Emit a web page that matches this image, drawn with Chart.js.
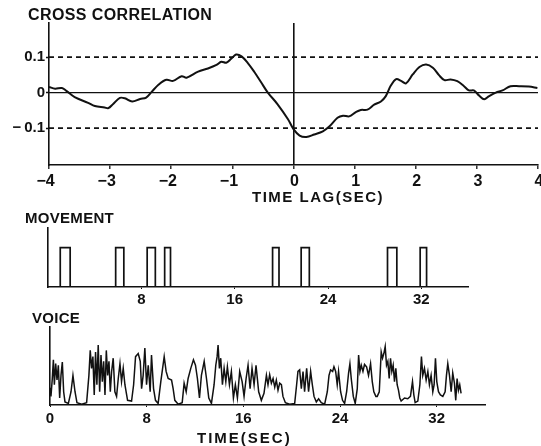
<!DOCTYPE html>
<html>
<head>
<meta charset="utf-8">
<script src="https://cdn.jsdelivr.net/npm/chart.js@4/dist/chart.umd.min.js"></script>
<style>
  html, body { margin: 0; padding: 0; background: #fff; }
  #wrap { position: relative; width: 541px; height: 446px; overflow: hidden; background: #fff; }
  #wrap canvas { position: absolute; left: 0; top: 0; }
</style>
</head>
<body>
<div id="wrap">
  <canvas id="corr" width="541" height="446"></canvas>
  <canvas id="move" width="541" height="446"></canvas>
  <canvas id="voice" width="541" height="446"></canvas>
</div>
<script>
// ---- data ----------------------------------------------------------------
// cross correlation between movement and voice, [lag (s), r]
const lagCorrelation = [
  [-4.00, 0.016], [-3.90, 0.011], [-3.79, 0.013], [-3.71, 0.004], [-3.58, -0.013],
  [-3.36, -0.029], [-3.25, -0.038], [-3.09, -0.042], [-3.03, -0.044], [-2.95, -0.032],
  [-2.84, -0.015], [-2.76, -0.016], [-2.64, -0.025], [-2.51, -0.018], [-2.41, -0.014],
  [-2.32, 0.002], [-2.21, 0.022], [-2.08, 0.036], [-1.97, 0.033], [-1.83, 0.046],
  [-1.75, 0.042], [-1.56, 0.059], [-1.40, 0.068], [-1.26, 0.078], [-1.18, 0.087],
  [-1.10, 0.084], [-1.02, 0.095], [-0.94, 0.107], [-0.85, 0.102], [-0.75, 0.084],
  [-0.64, 0.058], [-0.53, 0.029], [-0.42, 0.000], [-0.26, -0.033], [-0.09, -0.075],
  [0.00, -0.103], [0.10, -0.121], [0.21, -0.125], [0.34, -0.118], [0.48, -0.109],
  [0.59, -0.095], [0.72, -0.071], [0.81, -0.065], [0.91, -0.067], [1.02, -0.055],
  [1.10, -0.049], [1.21, -0.048], [1.32, -0.034], [1.43, -0.025], [1.51, -0.010],
  [1.59, 0.019], [1.68, 0.038], [1.76, 0.033], [1.84, 0.026], [1.95, 0.051],
  [2.06, 0.072], [2.17, 0.079], [2.28, 0.070], [2.38, 0.049], [2.47, 0.035],
  [2.57, 0.037], [2.68, 0.032], [2.79, 0.018], [2.87, 0.006], [2.95, 0.006],
  [3.04, -0.009], [3.12, -0.019], [3.20, -0.010], [3.31, 0.000], [3.42, 0.006],
  [3.55, 0.018], [3.69, 0.018], [3.85, 0.017], [3.99, 0.013]
];
const lagTicks = [-4, -3, -2, -1, 0, 1, 2, 3, 4];
const corrTicks = [-0.1, 0, 0.1];
const corrGuides = [0.1, -0.1];

// movement on/off times (s)
const movementOnsets  = [1.05, 5.8, 8.5, 10.0, 19.25, 21.7, 29.1, 31.9];
const movementOffsets = [1.9, 6.5, 9.2, 10.5, 19.8, 22.4, 29.9, 32.45];
const movementTicks = [8, 16, 24, 32];

// voice envelope, [time (s), level]
const voiceSamples = [
  [0.00, 0.22], [0.08, 0.11], [0.19, 0.34], [0.28, 0.58], [0.36, 0.26], [0.47, 0.53],
  [0.58, 0.32], [0.69, 0.51], [0.80, 0.09], [0.91, 0.38], [1.02, 0.55], [1.13, 0.17],
  [1.24, 0.04], [1.52, 0.02], [1.74, 0.17], [1.90, 0.38], [2.07, 0.17], [2.23, 0.03],
  [2.62, 0.01], [3.03, 0.03], [3.22, 0.38], [3.33, 0.70], [3.44, 0.47], [3.55, 0.62],
  [3.66, 0.13], [3.77, 0.68], [3.88, 0.26], [3.99, 0.77], [4.11, 0.17], [4.22, 0.64],
  [4.33, 0.30], [4.44, 0.56], [4.55, 0.13], [4.66, 0.70], [4.77, 0.38], [4.88, 0.56],
  [4.99, 0.17], [5.10, 0.43], [5.23, 0.60], [5.37, 0.17], [5.51, 0.11], [5.65, 0.34],
  [5.79, 0.53], [5.92, 0.30], [6.06, 0.47], [6.20, 0.26], [6.42, 0.06], [6.75, 0.05],
  [6.92, 0.26], [7.08, 0.62], [7.30, 0.66], [7.47, 0.56], [7.58, 0.21], [7.71, 0.38],
  [7.85, 0.73], [7.99, 0.26], [8.13, 0.51], [8.29, 0.17], [8.40, 0.64], [8.57, 0.21],
  [8.73, 0.06], [8.95, 0.02], [9.17, 0.30], [9.45, 0.62], [9.61, 0.43], [9.78, 0.34],
  [10.06, 0.32], [10.19, 0.21], [10.33, 0.06], [10.61, 0.01], [10.94, 0.03], [11.10, 0.28],
  [11.27, 0.17], [11.43, 0.34], [11.65, 0.47], [11.87, 0.58], [12.04, 0.51], [12.20, 0.34],
  [12.37, 0.09], [12.53, 0.38], [12.76, 0.56], [12.95, 0.34], [13.14, 0.09], [13.36, 0.02],
  [13.58, 0.26], [13.72, 0.51], [13.83, 0.62], [13.91, 0.77], [14.02, 0.47], [14.13, 0.60],
  [14.27, 0.26], [14.41, 0.47], [14.55, 0.30], [14.68, 0.49], [14.85, 0.26], [15.01, 0.43],
  [15.18, 0.09], [15.34, 0.26], [15.51, 0.09], [15.70, 0.43], [15.90, 0.30], [16.06, 0.11],
  [16.23, 0.34], [16.39, 0.51], [16.56, 0.21], [16.72, 0.47], [16.89, 0.26], [17.05, 0.51],
  [17.27, 0.17], [17.49, 0.06], [17.71, 0.15], [17.91, 0.38], [18.04, 0.26], [18.18, 0.39],
  [18.32, 0.28], [18.46, 0.34], [18.60, 0.23], [18.73, 0.32], [18.87, 0.19], [19.01, 0.28],
  [19.15, 0.26], [19.28, 0.11], [19.48, 0.03], [19.83, 0.01], [20.25, 0.02], [20.41, 0.26],
  [20.52, 0.43], [20.66, 0.45], [20.80, 0.21], [20.94, 0.43], [21.07, 0.17], [21.24, 0.47],
  [21.40, 0.17], [21.57, 0.43], [21.71, 0.26], [21.85, 0.11], [22.04, 0.04], [22.23, 0.08],
  [22.45, 0.03], [22.73, 0.01], [22.95, 0.17], [23.09, 0.38], [23.22, 0.45], [23.39, 0.43],
  [23.50, 0.49], [23.64, 0.43], [23.77, 0.26], [23.88, 0.43], [24.05, 0.17], [24.21, 0.06],
  [24.38, 0.02], [24.55, 0.17], [24.71, 0.41], [24.82, 0.53], [24.93, 0.34], [25.10, 0.11],
  [25.26, 0.02], [25.43, 0.21], [25.54, 0.64], [25.65, 0.43], [25.76, 0.51], [25.90, 0.43],
  [26.03, 0.52], [26.20, 0.49], [26.36, 0.38], [26.53, 0.53], [26.67, 0.30], [26.80, 0.17],
  [26.97, 0.11], [27.08, 0.11], [27.25, 0.17], [27.41, 0.68], [27.52, 0.60], [27.63, 0.66],
  [27.74, 0.75], [27.85, 0.51], [27.96, 0.56], [28.07, 0.34], [28.18, 0.60], [28.29, 0.43],
  [28.40, 0.51], [28.51, 0.30], [28.62, 0.47], [28.73, 0.26], [28.84, 0.19], [28.95, 0.09],
  [29.06, 0.05], [29.34, 0.09], [29.61, 0.08], [29.83, 0.11], [30.00, 0.30], [30.11, 0.13],
  [30.22, 0.03], [30.44, 0.05], [30.61, 0.26], [30.74, 0.62], [30.85, 0.38], [30.99, 0.47],
  [31.13, 0.32], [31.27, 0.43], [31.40, 0.26], [31.54, 0.38], [31.68, 0.17], [31.79, 0.26],
  [31.90, 0.60], [32.01, 0.30], [32.15, 0.17], [32.31, 0.13], [32.51, 0.11], [32.70, 0.17],
  [32.81, 0.38], [32.92, 0.53], [33.06, 0.38], [33.20, 0.17], [33.33, 0.41], [33.47, 0.28],
  [33.58, 0.06], [33.69, 0.34], [33.80, 0.19], [33.91, 0.26], [34.02, 0.15]
];
const timeTicks = [0, 8, 16, 24, 32];

// ---- shared look -----------------------------------------------------------
const INK = '#111';
const FAMILY = '"Liberation Sans", Arial, Helvetica, sans-serif';
Chart.defaults.font.family = FAMILY;
Chart.defaults.color = INK;

const PAGE_W = 541, PAGE_H = 446;
// padding so the plot box lands at [left,right] x [top,bottom] on the page
function frame(left, top, right, bottom, yW, xH) {
  return { left: left - yW, top: top, right: PAGE_W - right, bottom: PAGE_H - bottom - xH };
}
const fixY = w => s => { s.width = w; s.paddingTop = 0; s.paddingBottom = 0; };
const fixX = h => s => { s.height = h; s.paddingLeft = 0; s.paddingRight = 0; };
const setTicks = list => s => { s.ticks = list.map(v => ({ value: v })); };

// text captions (panel names, axis names)
const captions = {
  id: 'captions',
  afterDraw(chart, args, opts) {
    const ctx = chart.ctx;
    (opts.items || []).forEach(it => {
      ctx.save();
      ctx.font = it.font;
      ctx.fillStyle = INK;
      ctx.textAlign = 'left';
      ctx.textBaseline = 'alphabetic';
      if ('letterSpacing' in ctx) ctx.letterSpacing = (it.spacing || 0) + 'px';
      ctx.fillText(it.text, it.x, it.y);
      ctx.restore();
    });
  }
};
Chart.register(captions);

const pts = arr => arr.map(([x, y]) => ({ x, y }));
const baseOpts = { responsive: false, animation: false, events: [],
  plugins: { legend: { display: false }, tooltip: { enabled: false } } };

// ---- cross correlation panel ----------------------------------------------
new Chart(document.getElementById('corr'), {
  type: 'line',
  data: {
    datasets: [
      { data: [{ x: -4, y: 0 }, { x: 4, y: 0 }], borderColor: INK, borderWidth: 1.4, pointRadius: 0 },
      ...corrGuides.map(v => ({ data: [{ x: -4, y: v }, { x: 4, y: v }], borderColor: INK,
        borderWidth: 1.6, borderDash: [5, 4], pointRadius: 0 })),
      { data: pts(lagCorrelation), borderColor: INK, borderWidth: 2, pointRadius: 0,
        tension: 0.35, cubicInterpolationMode: 'default' }
    ]
  },
  options: {
    ...baseOpts,
    layout: { padding: frame(49, 23, 538, 165, 40, 30) },
    scales: {
      x: {
        type: 'linear', min: -4, max: 4,
        afterFit: fixX(30), afterBuildTicks: setTicks(lagTicks),
        border: { display: true, color: INK, width: 1.6 },
        grid: { drawOnChartArea: true, drawTicks: true, tickLength: 4, tickColor: INK, tickWidth: 1.3,
          lineWidth: 1.6, color: c => (c.tick && c.tick.value === 0) ? INK : 'rgba(0,0,0,0)' },
        ticks: { padding: 3, labelOffset: 1, maxRotation: 0, autoSkip: false,
          font: { size: 16, weight: 'bold' }, color: INK,
          callback: v => v < 0 ? '\u2212' + Math.abs(v) + '\u2007' : String(v) }
      },
      y: {
        type: 'linear', min: -0.204, max: 0.196,
        afterFit: fixY(40), afterBuildTicks: setTicks(corrTicks),
        border: { display: true, color: INK, width: 1.6 },
        grid: { drawOnChartArea: false, drawTicks: true, tickLength: 3, tickColor: INK, tickWidth: 1.3 },
        ticks: { padding: 1, font: { size: 15, weight: 'bold' }, color: INK,
          callback: v => v === 0 ? '0' : (v < 0 ? '\u2212\u2009' : '') + Math.abs(v).toFixed(1) }
      }
    },
    plugins: {
      ...baseOpts.plugins,
      captions: { items: [
        { text: 'CROSS CORRELATION', x: 28, y: 20, font: 'bold 16px ' + FAMILY, spacing: 0.4 },
        { text: 'TIME LAG(SEC)', x: 252, y: 202, font: 'bold 15px ' + FAMILY, spacing: 1.5 }
      ] }
    }
  }
});

// ---- movement panel --------------------------------------------------------
const movementTrace = [{ x: 0, y: 0 }];
movementOnsets.forEach((on, i) => {
  const off = movementOffsets[i];
  movementTrace.push({ x: on, y: 0 }, { x: on, y: 1 }, { x: off, y: 1 }, { x: off, y: 0 });
});
movementTrace.push({ x: 36, y: 0 });

new Chart(document.getElementById('move'), {
  type: 'line',
  data: { datasets: [{ data: movementTrace, borderColor: INK, borderWidth: 1.7, pointRadius: 0, tension: 0 }] },
  options: {
    ...baseOpts,
    layout: { padding: frame(48, 228, 468, 287, 40, 30) },
    scales: {
      x: {
        type: 'linear', min: 0, max: 36,
        afterFit: fixX(30), afterBuildTicks: setTicks(movementTicks),
        border: { display: true, color: INK, width: 1.6 },
        grid: { drawOnChartArea: false, drawTicks: true, tickLength: 2, tickColor: INK },
        ticks: { padding: 2, maxRotation: 0, autoSkip: false, font: { size: 15, weight: 'bold' }, color: INK }
      },
      y: {
        type: 'linear', min: 0, max: 1.5,
        afterFit: fixY(40),
        border: { display: true, color: INK, width: 1.6 },
        grid: { display: false },
        ticks: { display: false }
      }
    },
    plugins: {
      ...baseOpts.plugins,
      captions: { items: [
        { text: 'MOVEMENT', x: 25, y: 223, font: 'bold 15px ' + FAMILY, spacing: 0.3 }
      ] }
    }
  }
});

// ---- voice panel -----------------------------------------------------------
new Chart(document.getElementById('voice'), {
  type: 'line',
  data: { datasets: [{ data: pts(voiceSamples), borderColor: INK, borderWidth: 1.5, pointRadius: 0, tension: 0 }] },
  options: {
    ...baseOpts,
    layout: { padding: frame(50, 327, 485, 405, 40, 30) },
    scales: {
      x: {
        type: 'linear', min: 0, max: 36,
        afterFit: fixX(30), afterBuildTicks: setTicks(timeTicks),
        border: { display: true, color: INK, width: 1.6 },
        grid: { drawOnChartArea: false, drawTicks: true, tickLength: 2, tickColor: INK },
        ticks: { padding: 3, maxRotation: 0, autoSkip: false, font: { size: 15, weight: 'bold' }, color: INK }
      },
      y: {
        type: 'linear', min: 0, max: 1,
        afterFit: fixY(40),
        border: { display: true, color: INK, width: 1.6 },
        grid: { display: false },
        ticks: { display: false }
      }
    },
    plugins: {
      ...baseOpts.plugins,
      captions: { items: [
        { text: 'VOICE', x: 32, y: 323, font: 'bold 15px ' + FAMILY, spacing: 0.3 },
        { text: 'TIME(SEC)', x: 197, y: 443, font: 'bold 15px ' + FAMILY, spacing: 2 }
      ] }
    }
  }
});
</script>
</body>
</html>
